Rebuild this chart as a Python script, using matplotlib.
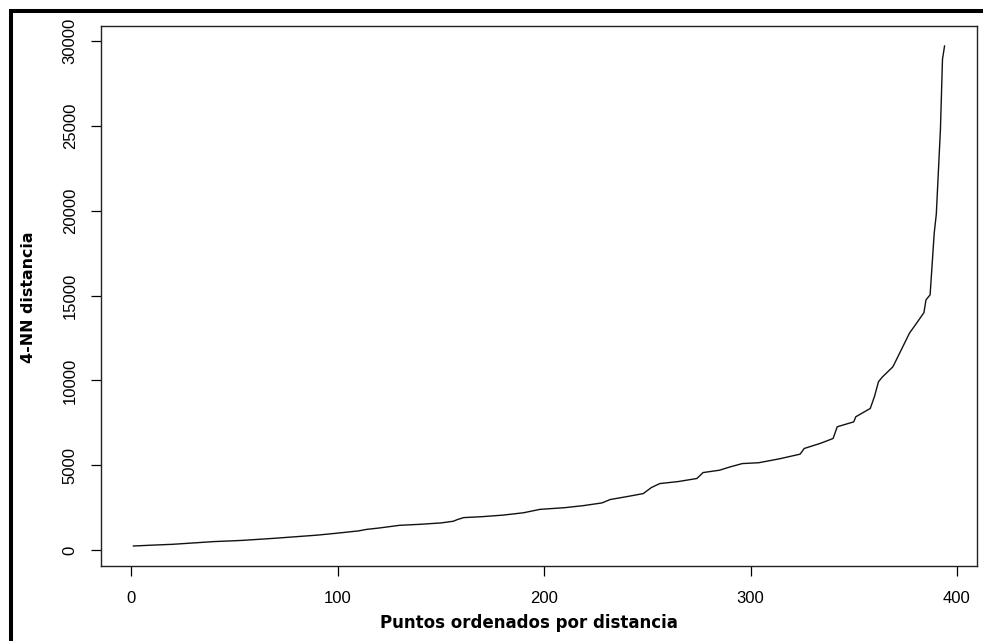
#!/usr/bin/env python3
"""k-NN distance plot (4-NN) in the style of an R base graphics figure."""
import matplotlib

matplotlib.use("Agg")
import matplotlib.pyplot as plt  # noqa: E402
from matplotlib.lines import Line2D  # noqa: E402

# points sorted by distance: index of the point and its 4-NN distance,
# read off the curve (vertices of the polyline)
punto = [1, 10, 20, 30, 40, 50, 54, 60, 70, 80, 90, 100, 110, 114, 120,
         130, 140, 150, 156, 158, 161, 170, 180, 190, 198, 210, 219, 228,
         232, 240, 248, 252, 256, 265, 274, 277, 285, 290, 296, 304, 314,
         324, 326, 334, 340, 342, 350, 351, 358, 360, 362, 364, 369, 373,
         377, 380, 384, 385, 387, 389, 390, 392, 393, 394]
distancia = [240, 290, 340, 420, 500, 550, 573, 620, 700, 790, 880, 1000,
             1130, 1220, 1300, 1460, 1520, 1600, 1700, 1800, 1914, 1970,
             2060, 2200, 2400, 2500, 2620, 2780, 2980, 3150, 3330, 3690,
             3920, 4040, 4220, 4570, 4710, 4900, 5100, 5150, 5380, 5655,
             5990, 6300, 6580, 7270, 7560, 7860, 8350, 9040, 9930, 10220,
             10810, 11800, 12790, 13300, 14000, 14750, 15050, 18700, 19800,
             24800, 28940, 29720]

x_ticks = [0, 100, 200, 300, 400]
y_ticks = [0, 5000, 10000, 15000, 20000, 25000, 30000]

TICK_FONT = "Liberation Sans"
LABEL_FONT = "DejaVu Sans"


def main() -> int:
    fig = plt.figure(figsize=(9.83, 6.41), dpi=100)
    ax = fig.add_axes([101 / 983, 1 - 566 / 641, 876 / 983, 540 / 641])

    ax.plot(punto, distancia, color="#111111", linewidth=1.0)

    # R style axis ranges: data range extended by 4 %
    xr = max(punto) - min(punto)
    yr = max(distancia) - min(distancia)
    ax.set_xlim(min(punto) - 0.04 * xr, max(punto) + 0.04 * xr)
    ax.set_ylim(min(distancia) - 0.04 * yr, max(distancia) + 0.04 * yr)

    ax.set_xticks(x_ticks)
    ax.set_yticks(y_ticks)
    ax.set_xticklabels([str(t) for t in x_ticks], family=TICK_FONT, fontsize=12)
    ax.set_yticklabels([str(t) for t in y_ticks], family=TICK_FONT, fontsize=12,
                       rotation=90, va="center")
    ax.tick_params(direction="out", length=7.2, width=0.9, colors="black")
    ax.tick_params(axis="x", pad=11)
    ax.tick_params(axis="y", pad=9.5)

    for side in ax.spines.values():
        side.set_linewidth(1.0)
        side.set_color("#222222")

    ax.set_xlabel("Puntos ordenados por distancia", family=LABEL_FONT,
                  fontweight="bold", fontsize=12)
    ax.set_ylabel("4-NN distancia", family=LABEL_FONT, fontweight="bold",
                  fontsize=11.4)
    ax.xaxis.set_label_coords((529 - 101) / 876, -(614 - 566) / 540)
    ax.yaxis.set_label_coords(-(101 - 36) / 876, (566 - 297.5) / 540)

    # thick frame around the whole figure (right and bottom edges are cut off)
    fig.add_artist(Line2D([10.5 / 983, 10.5 / 983, 1.0],
                          [0.0, 1 - 11 / 641, 1 - 11 / 641],
                          transform=fig.transFigure, color="black",
                          linewidth=2.9, solid_joinstyle="miter"))

    fig.savefig("out.png", dpi=100)
    plt.close(fig)
    return 0


if __name__ == "__main__":
    raise SystemExit(main())
